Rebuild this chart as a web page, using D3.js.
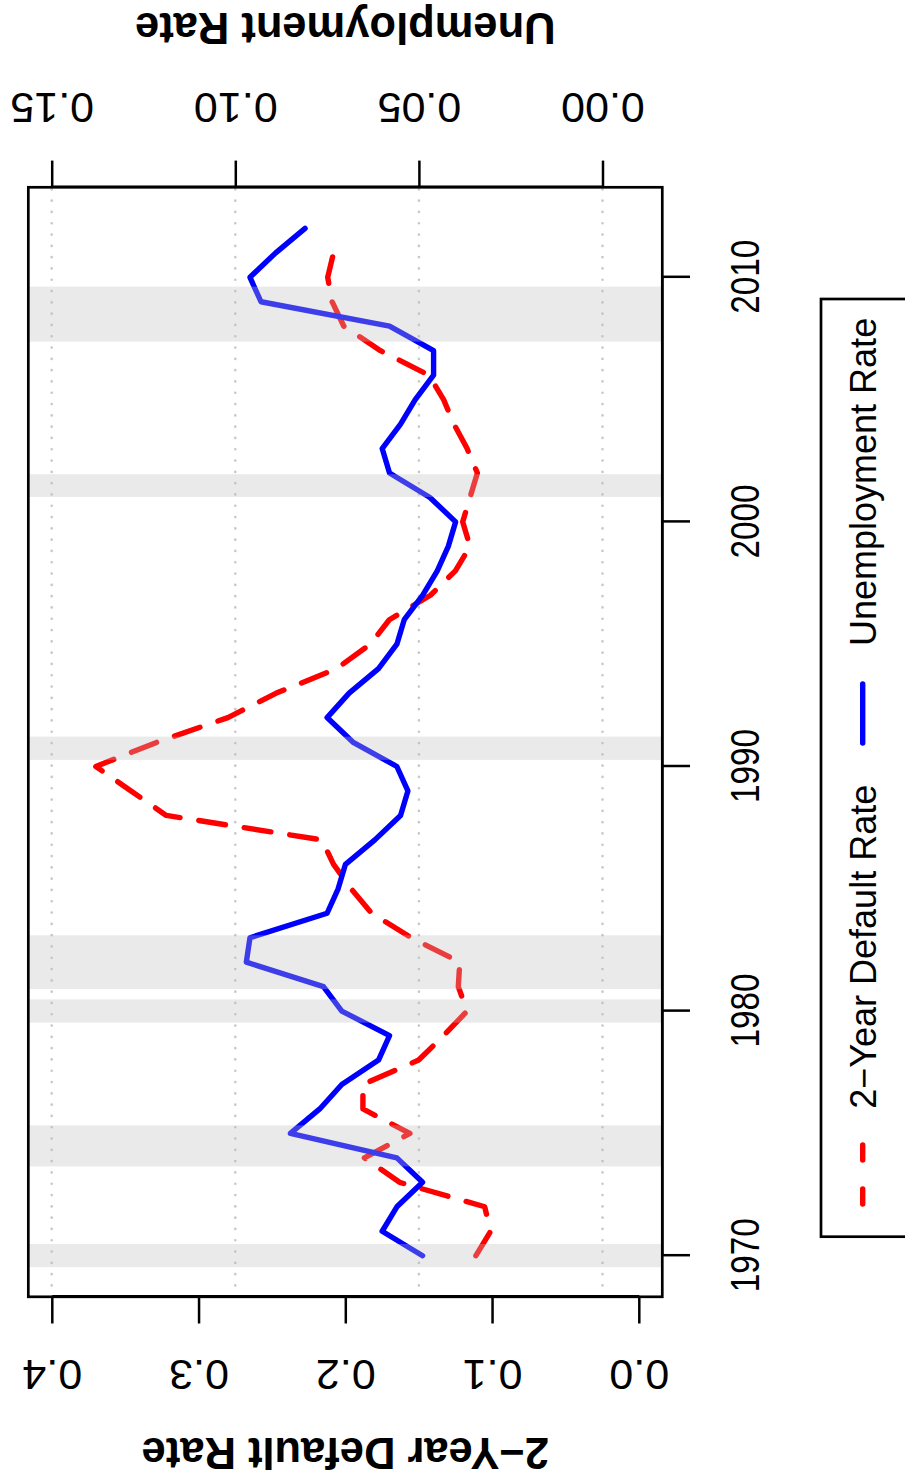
<!DOCTYPE html>
<html>
<head>
<meta charset="utf-8">
<script src="https://cdn.jsdelivr.net/npm/d3@7/dist/d3.min.js"></script>
<style>
  html, body { margin: 0; padding: 0; background: #ffffff; }
  svg { display: block; }
  text { font-family: "Liberation Sans", Arial, Helvetica, sans-serif; fill: #000; }
</style>
</head>
<body>
<svg id="chart" width="905" height="1484"></svg>
<script>
// ---- data ---------------------------------------------------------------
const unempYears = [1970, 1971, 1972, 1973, 1974, 1975, 1976, 1977, 1978, 1979,
                    1980, 1981, 1982, 1983, 1984, 1985, 1986, 1987, 1988, 1989,
                    1990, 1991, 1992, 1993, 1994, 1995, 1996, 1997, 1998, 1999,
                    2000, 2001, 2002, 2003, 2004, 2005, 2006, 2007, 2008, 2009,
                    2010, 2011, 2012];
const unemploymentRate = [0.049, 0.060, 0.056, 0.049, 0.056, 0.085, 0.077, 0.071, 0.061, 0.058,
                          0.071, 0.076, 0.097, 0.096, 0.075, 0.072, 0.070, 0.062, 0.055, 0.053,
                          0.056, 0.068, 0.075, 0.069, 0.061, 0.056, 0.054, 0.049, 0.045, 0.042,
                          0.040, 0.047, 0.058, 0.060, 0.055, 0.051, 0.046, 0.046, 0.058, 0.093,
                          0.096, 0.089, 0.081];

const defaultYears = [1970, 1971, 1972, 1973, 1974, 1975, 1976, 1977, 1978, 1979,
                      1980, 1981, 1982, 1983, 1984, 1985, 1986, 1987, 1988, 1989,
                      1990, 1991, 1992, 1993, 1994, 1995, 1996, 1997, 1998, 1999,
                      2000, 2001, 2002, 2003, 2004, 2005, 2006, 2007, 2008, 2009,
                      2010, 2011];
const defaultRate = [0.111, 0.101, 0.105, 0.163, 0.187, 0.156, 0.188, 0.188, 0.150, 0.133,
                     0.117, 0.123, 0.122, 0.155, 0.182, 0.196, 0.208, 0.216, 0.322, 0.346,
                     0.370, 0.328, 0.280, 0.247, 0.206, 0.183, 0.170, 0.142, 0.125, 0.115,
                     0.120, 0.115, 0.110, 0.117, 0.126, 0.133, 0.143, 0.176, 0.201, 0.209,
                     0.212, 0.208];

// recession periods (start, end) in fractional years
const recessionStart = [1969.53, 1973.65, 1979.53, 1980.90, 1990.27, 2001.02, 2007.37];
const recessionEnd   = [1970.48, 1975.33, 1980.48, 1983.10, 1991.22, 2001.95, 2009.62];

const yearTicks = [1970, 1980, 1990, 2000, 2010];
const defaultTicks = [0.0, 0.1, 0.2, 0.3, 0.4];
const unempTicks = [0.00, 0.05, 0.10, 0.15];

const legendLabels = ["2\u2212Year Default Rate", "Unemployment Rate"];
const leftTitle = "2\u2212Year Default Rate";
const rightTitle = "Unemployment Rate";

// ---- layout ---------------------------------------------------------------
// The chart is laid out in a landscape frame (u across, v down) and the
// whole frame is turned a quarter turn counter-clockwise onto the page.
const svg = d3.select("#chart");
const frame = svg.append("g").attr("transform", "matrix(0,-1,1,0,0,1484)");

const x = d3.scaleLinear().domain([1970, 2010]).range([228.3, 1206.7]);
const yL = d3.scaleLinear().domain([0, 0.4]).range([638.8, 51.8]);
const yR = d3.scaleLinear().domain([0, 0.15]).range([602.5, 51.7]);

// plotting region: data ranges padded by 4% on each side
const xPad = (2012 - 1970) * 0.04;
const boxL = x(1970 - xPad), boxR = x(2012 + xPad);
const boxT = yL(0.4 + 0.4 * 0.04), boxB = yL(-0.4 * 0.04);
const boxMidV = (boxT + boxB) / 2;

const LW = 5.4;
const DASH = "27,19";

// dotted horizontal guides at the right-axis ticks
frame.append("g").selectAll("line")
  .data(unempTicks)
  .join("line")
  .attr("x1", boxL).attr("x2", boxR)
  .attr("y1", d => yR(d)).attr("y2", d => yR(d))
  .attr("stroke", "#c8c8c8")
  .attr("stroke-width", 2.6)
  .attr("stroke-linecap", "round")
  .attr("stroke-dasharray", "0.1,11.2");

// series
const unempData = unempYears.map((yr, i) => ({ yr, v: unemploymentRate[i] }));
const defData = defaultYears.map((yr, i) => ({ yr, v: defaultRate[i] }));

frame.append("path")
  .datum(defData)
  .attr("fill", "none")
  .attr("stroke", "#ff0000")
  .attr("stroke-width", LW)
  .attr("stroke-linejoin", "round")
  .attr("stroke-linecap", "round")
  .attr("stroke-dasharray", DASH)
  .attr("d", d3.line().x(d => x(d.yr)).y(d => yL(d.v)));

frame.append("path")
  .datum(unempData)
  .attr("fill", "none")
  .attr("stroke", "#0000ff")
  .attr("stroke-width", LW)
  .attr("stroke-linejoin", "round")
  .attr("stroke-linecap", "round")
  .attr("d", d3.line().x(d => x(d.yr)).y(d => yR(d.v)));

// translucent recession shading laid over the series
frame.append("g").selectAll("rect")
  .data(recessionStart.map((s, i) => [s, recessionEnd[i]]))
  .join("rect")
  .attr("x", d => x(d[0]))
  .attr("width", d => x(d[1]) - x(d[0]))
  .attr("y", boxT)
  .attr("height", boxB - boxT)
  .attr("fill", "rgb(190,190,190)")
  .attr("fill-opacity", 0.32);

// plot frame
frame.append("rect")
  .attr("x", boxL).attr("y", boxT)
  .attr("width", boxR - boxL).attr("height", boxB - boxT)
  .attr("fill", "none")
  .attr("stroke", "#000")
  .attr("stroke-width", 2.7);

function styleAxis(sel) {
  sel.attr("font-family", null).attr("font-size", null);
  sel.select(".domain").attr("stroke", "#000").attr("stroke-width", 2.5);
  sel.selectAll(".tick line").attr("stroke", "#000").attr("stroke-width", 2.5);
}

// left axis: default rate
const axL = frame.append("g")
  .attr("transform", `translate(${boxL},0)`)
  .call(d3.axisLeft(yL).tickValues(defaultTicks).tickSize(26.7).tickSizeOuter(0)
        .tickFormat(d3.format(".1f")));
styleAxis(axL);
axL.selectAll(".tick text")
  .attr("x", null).attr("dy", null)
  .attr("transform", "translate(-78.7,0) rotate(-90)")
  .attr("text-anchor", "middle")
  .attr("dominant-baseline", "central")
  .style("font-size", "43px");

// right axis: unemployment rate
const axR = frame.append("g")
  .attr("transform", `translate(${boxR},0)`)
  .call(d3.axisRight(yR).tickValues(unempTicks).tickSize(26.7).tickSizeOuter(0)
        .tickFormat(d3.format(".2f")));
styleAxis(axR);
axR.selectAll(".tick text")
  .attr("x", null).attr("dy", null)
  .attr("transform", "translate(79.2,0) rotate(-90)")
  .attr("text-anchor", "middle")
  .attr("dominant-baseline", "central")
  .style("font-size", "43px");

// bottom axis: years
const axB = frame.append("g")
  .attr("transform", `translate(0,${boxB})`)
  .call(d3.axisBottom(x).tickValues(yearTicks).tickSize(27.7).tickSizeOuter(0)
        .tickFormat(d3.format("d")));
styleAxis(axB);
axB.select(".domain").attr("d", `M${x(1970)},0H${x(2010)}`);
axB.selectAll(".tick text")
  .attr("y", 83.2).attr("dy", null)
  .attr("text-anchor", "middle")
  .attr("dominant-baseline", "central")
  .attr("textLength", 74)
  .attr("lengthAdjust", "spacingAndGlyphs")
  .style("font-size", "40px");

// axis titles
frame.append("text")
  .attr("transform", `translate(31,${boxMidV}) rotate(-90)`)
  .attr("text-anchor", "middle")
  .attr("dominant-baseline", "central")
  .style("font-size", "43.5px")
  .style("font-weight", "bold")
  .text(leftTitle);

frame.append("text")
  .attr("transform", `translate(1456,${boxMidV}) rotate(-90)`)
  .attr("text-anchor", "middle")
  .attr("dominant-baseline", "central")
  .style("font-size", "43.5px")
  .style("font-weight", "bold")
  .text(rightTitle);

// legend
const legend = frame.append("g");
legend.append("rect")
  .attr("x", 247.3).attr("y", 821)
  .attr("width", 1185 - 247.3).attr("height", 100)
  .attr("fill", "none")
  .attr("stroke", "#000")
  .attr("stroke-width", 2.7);

const legendItems = [
  { label: legendLabels[0], color: "#ff0000", dash: "15,29", u0: 280, textU: 375.3 },
  { label: legendLabels[1], color: "#0000ff", dash: null, u0: 741, textU: 838 }
];
legendItems.forEach(it => {
  legend.append("line")
    .attr("x1", it.u0).attr("x2", it.u0 + 59)
    .attr("y1", 862.7).attr("y2", 862.7)
    .attr("stroke", it.color)
    .attr("stroke-width", LW)
    .attr("stroke-linecap", "round")
    .attr("stroke-dasharray", it.dash);
  legend.append("text")
    .attr("x", it.textU).attr("y", 863.5)
    .attr("dominant-baseline", "central")
    .style("font-size", "36px")
    .text(it.label);
});
</script>
</body>
</html>
